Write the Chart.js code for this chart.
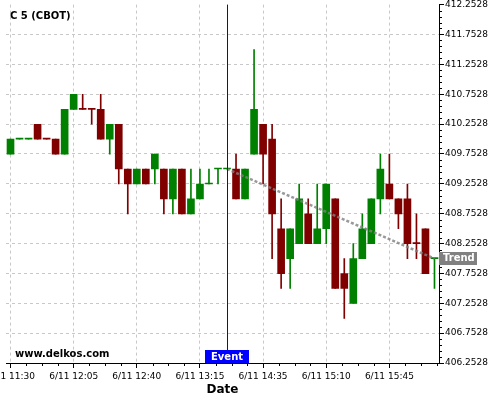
<!DOCTYPE html>
<html>
<head>
<meta charset="utf-8">
<title>C 5 (CBOT)</title>
<script src="https://cdn.jsdelivr.net/npm/chart.js@4.4.1/dist/chart.umd.min.js"></script>
<style>
  html, body { margin: 0; padding: 0; background: #fff; }
  #chart-box { width: 500px; height: 400px; }
</style>
</head>
<body>
<div id="chart-box"><canvas id="chart"></canvas></div>
<script>
'use strict';

// ******* DATA *******
let timeLabels = [
  '6/11 11:30', '6/11 11:35', '6/11 11:40', '6/11 11:45', '6/11 11:50', '6/11 11:55',
  '6/11 12:00', '6/11 12:05', '6/11 12:10', '6/11 12:15', '6/11 12:20', '6/11 12:25',
  '6/11 12:30', '6/11 12:35', '6/11 12:40', '6/11 12:45', '6/11 12:50', '6/11 12:55',
  '6/11 13:00', '6/11 13:05', '6/11 13:10', '6/11 13:15', '6/11 13:20', '6/11 14:10',
  '6/11 14:15', '6/11 14:20', '6/11 14:25', '6/11 14:30', '6/11 14:35', '6/11 14:40',
  '6/11 14:45', '6/11 14:50', '6/11 14:55', '6/11 15:00', '6/11 15:05', '6/11 15:10',
  '6/11 15:15', '6/11 15:20', '6/11 15:25', '6/11 15:30', '6/11 15:35', '6/11 15:40',
  '6/11 15:45', '6/11 15:50', '6/11 15:55', '6/11 16:00', '6/11 16:05', '6/11 16:10'
];

let opens = [
  409.75, 410.0, 410.0, 410.25, 410.0, 410.0, 409.75, 410.5, 410.5, 410.5, 410.5, 410.0,
  410.25, 409.5, 409.25, 409.5, 409.5, 409.5, 409.0, 409.5, 408.75, 409.0, 409.25, 409.5,
  409.5, 409.5, 409.0, 409.75, 410.25, 410.0, 408.5, 408.0, 408.25, 408.75, 408.25, 408.5,
  409.0, 407.75, 407.25, 408.0, 408.25, 409.0, 409.25, 409.0, 409.0, 408.25, 408.5, 408.0
];
let highs = [
  410.0, 410.0, 410.0, 410.25, 410.0, 410.0, 410.5, 410.75, 410.75, 410.5, 410.75, 410.25,
  410.25, 409.5, 409.5, 409.5, 409.75, 409.5, 409.5, 409.5, 409.5, 409.5, 409.5, 409.5,
  409.5, 409.75, 409.5, 411.5, 410.25, 410.25, 409.0, 408.5, 409.25, 409.0, 409.25, 409.25,
  409.0, 408.0, 408.25, 408.75, 409.0, 409.75, 409.75, 409.0, 409.25, 408.75, 408.5, 408.0
];
let lows = [
  409.75, 410.0, 410.0, 410.0, 410.0, 409.75, 409.75, 410.5, 410.5, 410.25, 410.0, 409.75,
  409.25, 408.75, 409.25, 409.25, 409.25, 408.75, 408.75, 408.75, 408.75, 409.0, 409.25, 409.25,
  409.5, 409.0, 409.0, 409.75, 409.25, 408.0, 407.5, 407.5, 408.25, 408.25, 408.25, 408.25,
  407.5, 407.0, 407.25, 408.0, 408.25, 408.75, 409.0, 408.5, 408.0, 408.0, 407.75, 407.5
];
let closes = [
  410.0, 410.0, 410.0, 410.0, 410.0, 409.75, 410.5, 410.75, 410.5, 410.5, 410.0, 410.25,
  409.5, 409.25, 409.5, 409.25, 409.75, 409.0, 409.5, 408.75, 409.0, 409.25, 409.25, 409.5,
  409.5, 409.0, 409.5, 410.5, 409.75, 408.75, 407.75, 408.5, 409.0, 408.25, 408.5, 409.25,
  407.5, 407.5, 408.0, 408.5, 409.0, 409.5, 409.0, 408.75, 408.25, 408.25, 407.75, 408.0
];

let yTickValues = [
  406.2528, 406.7528, 407.2528, 407.7528, 408.2528, 408.7528,
  409.2528, 409.7528, 410.2528, 410.7528, 411.2528, 411.7528, 412.2528
];

let eventIndex = 24;
let trendIndexes = [24, 47];
let trendValues = [409.5, 408.0];

// ******* STYLE *******
let upColor = '#008000';
let downColor = '#800000';
let gridColor = '#c8c8c8';

// ******* HELPERS *******
function candleColors() {
  let colors = [];
  for (let i = 0; i < closes.length; i++) {
    let c;
    if (closes[i] > opens[i]) {
      c = upColor;
    } else if (closes[i] < opens[i]) {
      c = downColor;
    } else if (i > 0 && closes[i] !== closes[i - 1]) {
      c = closes[i] > closes[i - 1] ? upColor : downColor;
    } else {
      c = i > 0 ? colors[i - 1] : upColor;
    }
    colors.push(c);
  }
  return colors;
}

let colors = candleColors();
let bodyData = opens.map((o, i) => [o, closes[i]]);
let wickData = lows.map((l, i) => [l, highs[i]]);
let trendData = trendIndexes.map((idx, i) => ({ x: timeLabels[idx], y: trendValues[i] }));

// ******* PLUGIN: extra axis bits, event, labels *******
let decorPlugin = {
  id: 'decor',
  afterDatasetsDraw(chart) {
    let ctx = chart.ctx;
    let area = chart.chartArea;
    let x = chart.scales.x;

    // event line
    let ex = Math.floor(x.getPixelForValue(eventIndex));
    ctx.save();
    ctx.fillStyle = 'rgb(0, 0, 255)';
    ctx.fillRect(ex, area.top, 1, area.bottom - area.top);
    ctx.restore();
  },
  afterDraw(chart) {
    let ctx = chart.ctx;
    let area = chart.chartArea;
    let x = chart.scales.x;
    let y = chart.scales.y;

    ctx.save();
    ctx.strokeStyle = '#000';
    ctx.lineWidth = 1;

    // y minor ticks
    for (let i = 0; i < yTickValues.length - 1; i++) {
      let step = (yTickValues[i + 1] - yTickValues[i]) / 5;
      for (let j = 1; j < 5; j++) {
        let py = Math.round(y.getPixelForValue(yTickValues[i] + step * j)) + 0.5;
        ctx.beginPath();
        ctx.moveTo(area.right, py);
        ctx.lineTo(area.right + 3, py);
        ctx.stroke();
      }
    }

    // x minor ticks
    for (let i = 0; i < timeLabels.length; i += 7) {
      for (let j = 1; j < 4; j++) {
        let v = i + 1.75 * j;
        if (v > timeLabels.length - 0.5) break;
        let px = Math.round(x.getPixelForValue(v)) + 0.5;
        ctx.beginPath();
        ctx.moveTo(px, area.bottom);
        ctx.lineTo(px, area.bottom + 3);
        ctx.stroke();
      }
    }

    // x tick labels
    ctx.fillStyle = '#000';
    ctx.font = '9px "DejaVu Sans"';
    ctx.textAlign = 'center';
    ctx.textBaseline = 'middle';
    for (let i = 0; i < timeLabels.length; i += 7) {
      ctx.fillText(timeLabels[i], x.getPixelForValue(i), 377);
    }

    // axis title
    ctx.font = 'bold 12px "DejaVu Sans"';
    ctx.fillText('Date', (area.left + area.right) / 2, 390);

    // chart title and watermark
    ctx.textAlign = 'left';
    ctx.textBaseline = 'alphabetic';
    ctx.font = 'bold 10px "DejaVu Sans"';
    ctx.fillText('C 5 (CBOT)', 10, 19);
    ctx.fillText('www.delkos.com', 15, 357);

    // event label
    let ex = x.getPixelForValue(eventIndex);
    ctx.fillStyle = '#0000ff';
    ctx.fillRect(Math.round(ex) - 22, area.bottom - 13, 44, 13);
    ctx.fillStyle = '#fff';
    ctx.textAlign = 'center';
    ctx.textBaseline = 'middle';
    ctx.fillText('Event', ex, area.bottom - 6);

    // trend label
    let ty = y.getPixelForValue(trendValues[1]);
    ctx.fillStyle = '#808080';
    ctx.fillRect(area.right, Math.round(ty) - 7, 38, 13);
    ctx.fillStyle = '#fff';
    ctx.textAlign = 'left';
    ctx.fillText('Trend', area.right + 4, ty);
    ctx.restore();
  }
};

// ******* CHART *******
let canvasElem = document.getElementById('chart');

let chartObj = {
  type: 'bar',
  data: {
    labels: timeLabels,
    datasets: [
      {
        type: 'line',
        label: 'Trend',
        data: trendData,
        borderColor: 'rgba(128,128,128,0.8)',
        borderWidth: 2.5,
        borderDash: [3, 2],
        pointRadius: 0,
        fill: false,
        order: 0
      },
      {
        label: 'Body',
        data: bodyData,
        backgroundColor: colors,
        borderWidth: 0,
        barThickness: 7,
        minBarLength: 1,
        grouped: false,
        order: 1
      },
      {
        label: 'Wick',
        data: wickData,
        backgroundColor: colors,
        borderWidth: 0,
        barThickness: 1,
        grouped: false,
        order: 2
      }
    ]
  },
  options: {
    responsive: true,
    maintainAspectRatio: false,
    animation: false,
    layout: { padding: { left: 6, top: 4, right: 0, bottom: 0 } },
    plugins: {
      legend: { display: false },
      tooltip: { enabled: false }
    },
    scales: {
      x: {
        type: 'category',
        offset: true,
        afterFit: (scale) => { scale.height = 37; },
        ticks: { display: false, autoSkip: false },
        grid: {
          offset: false,
          color: (c) => (c.index % 7 === 0 ? gridColor : 'transparent'),
          tickColor: (c) => (c.index % 7 === 0 ? '#000' : 'transparent'),
          tickLength: 5,
          tickBorderDash: []
        },
        border: { display: true, color: '#000', width: 1, dash: [3, 3] }
      },
      y: {
        position: 'right',
        min: 406.2528,
        max: 412.2528,
        afterFit: (scale) => { scale.width = 61; },
        afterBuildTicks: (scale) => {
          scale.ticks = yTickValues.map((v) => ({ value: v }));
        },
        ticks: {
          color: '#000',
          padding: 1,
          font: { family: 'DejaVu Sans', size: 9, lineHeight: 0.8 },
          callback: (v) => Number(v).toFixed(4)
        },
        grid: {
          color: (c) => (c.index === yTickValues.length - 1 ? 'transparent' : gridColor),
          tickColor: '#000',
          tickLength: 5,
          tickBorderDash: []
        },
        border: { display: true, color: '#000', width: 1, dash: [3, 3] }
      }
    }
  },
  plugins: [decorPlugin]
};

new Chart(canvasElem, chartObj);
</script>
</body>
</html>
